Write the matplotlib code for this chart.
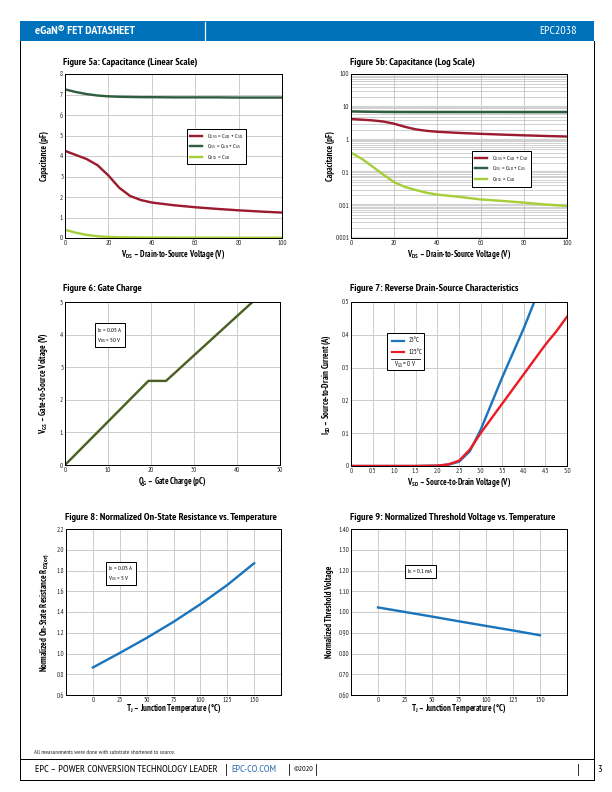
import matplotlib
matplotlib.use('Agg')
import matplotlib.pyplot as plt
from matplotlib.patches import Rectangle
from matplotlib.lines import Line2D

plt.rcParams['font.family'] = ['PT Sans Narrow', 'DejaVu Sans']
plt.rcParams['mathtext.fontset'] = 'custom'
plt.rcParams['mathtext.rm'] = 'PT Sans Narrow'
plt.rcParams['mathtext.it'] = 'PT Sans Narrow'
plt.rcParams['mathtext.bf'] = 'PT Sans Narrow:bold'

W, H = 612, 792

# ---- data ----
# fig 5 capacitance vs VDS
vds = [0, 5, 10, 15, 20, 25, 30, 35, 40, 50, 60, 70, 80, 90, 100]
coss = [4.25, 4.05, 3.85, 3.55, 3.05, 2.45, 2.05, 1.85, 1.73, 1.6, 1.5, 1.42, 1.35, 1.29, 1.24]
ciss = [7.25, 7.12, 7.02, 6.95, 6.91, 6.89, 6.88, 6.87, 6.87, 6.86, 6.86, 6.86, 6.85, 6.85, 6.85]
crss = [0.40, 0.26, 0.15, 0.085, 0.05, 0.036, 0.029, 0.024, 0.021, 0.018, 0.015, 0.0135, 0.012, 0.0105, 0.0095]

# fig 6 gate charge
qg = [0, 19.4, 23.5, 43.6]
vgs = [0, 2.58, 2.58, 5.0]

# fig 7 reverse drain-source
vsd_25 = [0, 0.5, 1.0, 1.5, 2.0, 2.25, 2.5, 2.75, 3.0, 3.25, 3.5, 3.75, 4.0, 4.25]
isd_25 = [0, 0, 0, 0, 0.001, 0.004, 0.013, 0.045, 0.11, 0.19, 0.27, 0.345, 0.42, 0.503]
vsd_125 = [0, 0.5, 1.0, 1.5, 2.0, 2.25, 2.5, 2.75, 3.0, 3.25, 3.5, 3.75, 4.0, 4.25, 4.5, 4.75, 5.0]
isd_125 = [0, 0, 0, 0, 0.001, 0.005, 0.016, 0.05, 0.1, 0.145, 0.19, 0.235, 0.28, 0.325, 0.37, 0.41, 0.455]

# fig 8 / 9 vs temperature
tj = [0, 25, 50, 75, 100, 125, 150]
rds_norm = [0.865, 1.005, 1.15, 1.305, 1.475, 1.66, 1.87]
vth_norm = [1.022, 1.0, 0.978, 0.955, 0.933, 0.911, 0.888]

# colours
C_OSS = '#9B1B30'
C_ISS = '#2F5D40'
C_RSS = '#A6CE39'
C_QG = '#4B5F23'
BLUE = '#1B75BC'
RED = '#EC1C24'
HEAD = '#0072BC'
GRID = '#C8C8C8'


def fx(x):
    return x / W


def fy(y):
    return 1 - y / H


def axpos(x0, y0, x1, y1):
    return [x0 / W, 1 - y1 / H, (x1 - x0) / W, (y1 - y0) / H]


fig = plt.figure(figsize=(W / 72, H / 72), dpi=72)

# ---- page frame, header, footer ----
fig.patches.append(Rectangle((fx(20), fy(41)), fx(574), 20 / H, transform=fig.transFigure,
                             facecolor=HEAD, edgecolor='none'))
fig.add_artist(Line2D([fx(205), fx(205)], [fy(22), fy(40)], color='white', lw=1.2))
fig.text(fx(35), fy(31), 'eGaN® FET DATASHEET', color='white', fontsize=12,
         fontweight='bold', va='center', ha='left')
fig.text(fx(577), fy(31), 'EPC2038', color='white', fontsize=12, va='center', ha='right')

for xx in (20, 594):
    fig.add_artist(Line2D([fx(xx), fx(xx)], [fy(41), fy(780)], color='black', lw=1))
fig.add_artist(Line2D([fx(20), fx(594)], [fy(759), fy(759)], color='black', lw=1))
fig.add_artist(Line2D([fx(20), fx(594)], [fy(780), fy(780)], color='black', lw=1))

fig.text(fx(34), fy(752), 'All measurements were done with substrate shortened to source.',
         fontsize=6.3, va='center', color='#222222')
fig.text(fx(35), fy(769.5), 'EPC – POWER CONVERSION TECHNOLOGY LEADER', fontsize=10.4, va='center')
fig.text(fx(231), fy(769.5), 'EPC-CO.COM', fontsize=10.4, va='center', color='#2E6DB4')
fig.text(fx(313), fy(769.5), '©2020', fontsize=8, va='center', ha='right')
for xx in (226, 289, 316, 578):
    fig.add_artist(Line2D([fx(xx), fx(xx)], [fy(764), fy(775)], color='black', lw=0.8))
fig.text(fx(600), fy(769.5), '3', fontsize=10.4, va='center', ha='center')


def setup(ax, xlim, ylim, xticks, xlabs, yticks, ylabs, xlabel, ylabel, xoff, yoff, grid=True):
    ax.set_xlim(xlim)
    ax.set_ylim(ylim)
    ax.set_xticks(xticks)
    ax.set_xticklabels(xlabs)
    ax.set_yticks(yticks)
    ax.set_yticklabels(ylabs)
    ax.tick_params(length=0, labelsize=7, pad=1.8, colors='#222222')
    for s in ax.spines.values():
        s.set_linewidth(1)
        s.set_color('black')
    if grid:
        ax.grid(True, color=GRID, lw=0.9)
    ax.set_axisbelow(True)
    ax.set_xlabel(xlabel, fontsize=8.5, fontweight='bold', va='center')
    ax.set_ylabel(ylabel, fontsize=8.5, fontweight='bold', va='center')
    ax.xaxis.set_label_coords(0.5, xoff)
    ax.yaxis.set_label_coords(yoff, 0.5)


def title(x, y, s):
    fig.text(fx(x), fy(y), s, fontsize=10.3, fontweight='bold', va='center', ha='left')


def note(ax, x, y, s):
    ax.text(x, y, s, transform=ax.transAxes, fontsize=6.4, va='top', ha='left', linespacing=1.25,
            bbox=dict(boxstyle='square,pad=0.35', fc='white', ec='black', lw=1))


cap_labels = [r'$\mathrm{C_{OSS}}$ = $\mathrm{C_{GD}}$ + $\mathrm{C_{SD}}$',
              r'$\mathrm{C_{ISS}}$ = $\mathrm{C_{GD}}$ + $\mathrm{C_{GS}}$',
              r'$\mathrm{C_{RSS}}$ = $\mathrm{C_{GD}}$']
vds_label = r'$\mathbf{V_{DS}}$ – Drain-to-Source Voltage (V)'

# ---- Figure 5a ----
title(63, 62, 'Figure 5a: Capacitance (Linear Scale)')
ax = fig.add_axes(axpos(65, 74, 282, 238))
ax.plot(vds, coss, color=C_OSS, lw=2.4, label=cap_labels[0])
ax.plot(vds, ciss, color=C_ISS, lw=2.4, label=cap_labels[1])
ax.plot(vds, crss, color=C_RSS, lw=2.4, label=cap_labels[2])
setup(ax, (0, 100), (0, 8), range(0, 101, 20), [str(v) for v in range(0, 101, 20)],
      range(0, 9), [str(v) for v in range(0, 9)], vds_label, 'Capacitance (pF)', -0.1, -0.093)
leg = ax.legend(loc='upper left', bbox_to_anchor=(0.562, 0.665), borderaxespad=0, fontsize=6.3,
                fancybox=False, framealpha=1, edgecolor='black', handlelength=2.0,
                handletextpad=0.8, labelspacing=0.25, borderpad=0.45)
leg.get_frame().set_linewidth(1)

# ---- Figure 5b ----
title(350, 62, 'Figure 5b: Capacitance (Log Scale)')
ax = fig.add_axes(axpos(351, 74, 567, 238))
ax.plot(vds, coss, color=C_OSS, lw=2.4, label=cap_labels[0])
ax.plot(vds, ciss, color=C_ISS, lw=2.4, label=cap_labels[1])
ax.plot(vds, crss, color=C_RSS, lw=2.4, label=cap_labels[2])
ax.set_yscale('log')
setup(ax, (0, 100), (0.001, 100), range(0, 101, 20), [str(v) for v in range(0, 101, 20)],
      [0.001, 0.01, 0.1, 1, 10, 100], ['0.001', '0.01', '0.1', '1', '10', '100'],
      vds_label, 'Capacitance (pF)', -0.1, -0.093, grid=False)
ax.grid(True, axis='x', color=GRID, lw=0.9)
ax.grid(True, axis='y', which='major', color='#D2D2D2', lw=2.2)
ax.grid(True, axis='y', which='minor', color='#B4B4B4', lw=0.6)
ax.tick_params(which='minor', length=0)
ax.yaxis.set_minor_formatter(plt.NullFormatter())
leg = ax.legend(loc='upper left', bbox_to_anchor=(0.56, 0.53), borderaxespad=0, fontsize=6.3,
                fancybox=False, framealpha=1, edgecolor='black', handlelength=2.0,
                handletextpad=0.8, labelspacing=0.25, borderpad=0.45)
leg.get_frame().set_linewidth(1)

# ---- Figure 6 ----
title(63, 289, 'Figure 6: Gate Charge')
ax = fig.add_axes(axpos(65, 302, 280, 465))
ax.plot(qg, vgs, color=C_QG, lw=2.4)
setup(ax, (0, 50), (0, 5), range(0, 51, 10), [str(v) for v in range(0, 51, 10)],
      range(0, 6), [str(v) for v in range(0, 6)], r'$\mathbf{Q_{G}}$ – Gate Charge (pC)',
      r'$\mathbf{V_{GS}}$ – Gate-to-Source Voltage (V)', -0.105, -0.098)
note(ax, 0.15, 0.855, r'$\mathrm{I_{D}}$ = 0.05 A' + '\n' + r'$\mathrm{V_{DS}}$ = 50 V')

# ---- Figure 7 ----
title(350, 289, 'Figure 7: Reverse Drain-Source Characteristics')
ax = fig.add_axes(axpos(351, 302, 567, 466))
ax.plot(vsd_25, isd_25, color=BLUE, lw=2.4)
ax.plot(vsd_125, isd_125, color=RED, lw=2.4)
xt = [0, 0.5, 1.0, 1.5, 2.0, 2.5, 3.0, 3.5, 4.0, 4.5, 5.0]
setup(ax, (0, 5), (0, 0.5), xt, ['0'] + ['%.1f' % v for v in xt[1:]],
      [0, 0.1, 0.2, 0.3, 0.4, 0.5], ['0', '0.1', '0.2', '0.3', '0.4', '0.5'],
      r'$\mathbf{V_{SD}}$ – Source-to-Drain Voltage (V)',
      r'$\mathbf{I_{SD}}$ – Source-to-Drain Current (A)', -0.105, -0.11)
ax.add_patch(Rectangle((0.167, 0.585), 0.171, 0.226, transform=ax.transAxes,
                       fc='white', ec='black', lw=1, zorder=5))
for yy, col, lab in ((0.765, BLUE, '25°C'), (0.695, RED, '125°C')):
    ax.add_line(Line2D([0.19, 0.245], [yy, yy], transform=ax.transAxes, color=col, lw=2.2, zorder=6))
    ax.text(0.265, yy, lab, transform=ax.transAxes, fontsize=6.5, va='center', zorder=6)
ax.add_line(Line2D([0.185, 0.32], [0.65, 0.65], transform=ax.transAxes, color='black', lw=0.8, zorder=6))
ax.text(0.252, 0.615, r'$\mathrm{V_{GS}}$ = 0 V', transform=ax.transAxes, fontsize=6.5,
        va='center', ha='center', zorder=6)

# ---- Figure 8 ----
title(65, 518, 'Figure 8: Normalized On-State Resistance vs. Temperature')
ax = fig.add_axes(axpos(66, 529, 281, 695))
ax.plot(tj, rds_norm, color=BLUE, lw=2.4)
yt = [0.6, 0.8, 1.0, 1.2, 1.4, 1.6, 1.8, 2.0, 2.2]
setup(ax, (-25, 175), (0.6, 2.2), tj, [str(v) for v in tj], yt, ['%.1f' % v for v in yt],
      r'$\mathbf{T_{J}}$ – Junction Temperature (°C)',
      r'Normalized On-State Resistance $\mathbf{R_{DS(on)}}$', -0.085, -0.1)
note(ax, 0.195, 0.79, r'$\mathrm{I_{D}}$ = 0.05 A' + '\n' + r'$\mathrm{V_{GS}}$ = 5 V')

# ---- Figure 9 ----
title(350, 518, 'Figure 9: Normalized Threshold Voltage vs. Temperature')
ax = fig.add_axes(axpos(351, 529, 567, 695))
ax.plot(tj, vth_norm, color=BLUE, lw=2.4)
yt = [0.6, 0.7, 0.8, 0.9, 1.0, 1.1, 1.2, 1.3, 1.4]
setup(ax, (-25, 175), (0.6, 1.4), tj, [str(v) for v in tj], yt, ['%.2f' % v for v in yt],
      r'$\mathbf{T_{J}}$ – Junction Temperature (°C)', 'Normalized Threshold Voltage', -0.085, -0.1)
note(ax, 0.26, 0.77, r'$\mathrm{I_{D}}$ = 0.1 mA')

fig.savefig('out.png', dpi=72)
